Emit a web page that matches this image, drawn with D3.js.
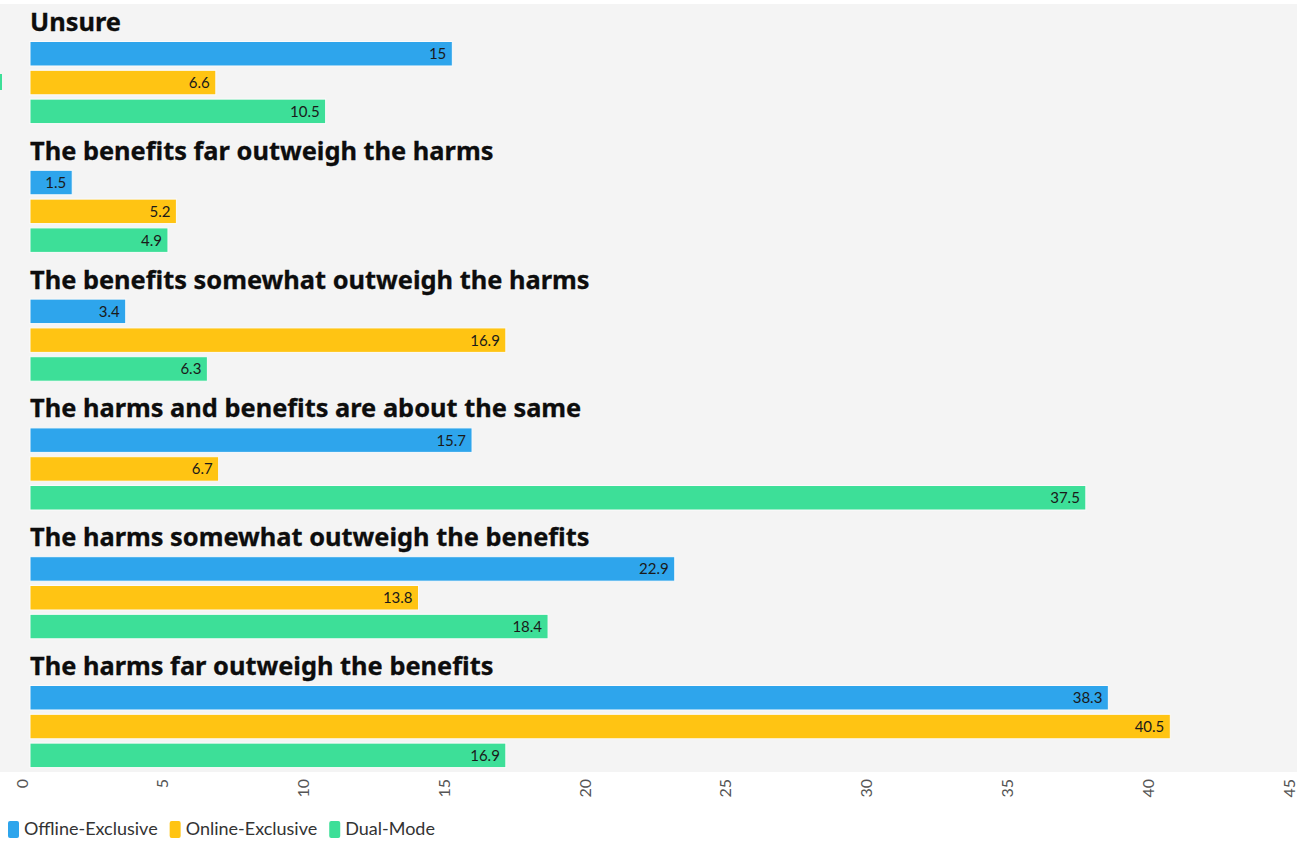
<!DOCTYPE html>
<html>
<head>
<meta charset="utf-8">
<script src="https://cdn.jsdelivr.net/npm/d3@7"></script>
<style>
  html, body { margin: 0; padding: 0; background: #ffffff; }
  svg { display: block; }
</style>
</head>
<body>
<svg id="chart" width="1299" height="845"></svg>
<script>
// ---- data ----
const categories = [
  "Unsure",
  "The benefits far outweigh the harms",
  "The benefits somewhat outweigh the harms",
  "The harms and benefits are about the same",
  "The harms somewhat outweigh the benefits",
  "The harms far outweigh the benefits"
];
const seriesNames = ["Offline-Exclusive", "Online-Exclusive", "Dual-Mode"];
const offlineExclusive = [15, 1.5, 3.4, 15.7, 22.9, 38.3];
const onlineExclusive  = [6.6, 5.2, 16.9, 6.7, 13.8, 40.5];
const dualMode         = [10.5, 4.9, 6.3, 37.5, 18.4, 16.9];
const xTicks = [0, 5, 10, 15, 20, 25, 30, 35, 40, 45];

const seriesValues = [offlineExclusive, onlineExclusive, dualMode];
const colors = ["#2ea5ec", "#ffc413", "#3ddf98"];

const svg = d3.select("#chart");

// background panel
svg.append("rect").attr("x", 0).attr("y", 4).attr("width", 1297).attr("height", 768)
  .attr("fill", "#f4f4f4");
// small left mark
svg.append("rect").attr("x", 0).attr("y", 74).attr("width", 2).attr("height", 16)
  .attr("fill", "#3ddf98");

const x = d3.scaleLinear().domain([0, 45]).range([30, 1297]);
const gY = d3.scaleBand().domain(categories).range([9.5, 9.5 + 6 * 128.8]).paddingInner(0);
const bY = d3.scaleBand().domain(seriesNames).range([32, 114.1]).paddingInner(0.15);

const groups = svg.selectAll("g.grp").data(categories).join("g")
  .attr("class", "grp")
  .attr("transform", d => `translate(0,${gY(d)})`);

groups.append("text")
  .attr("x", 30).attr("y", 21.5)
  .attr("font-family", "'Noto Sans', 'Open Sans', sans-serif")
  .attr("font-weight", "bold")
  .attr("font-size", 25.4)
  .attr("fill", "#0d0d0d")
  .attr("stroke", "#0d0d0d")
  .attr("stroke-width", 0.3)
  .text(d => d);

groups.each(function(cat, ci) {
  const g = d3.select(this);
  const rows = seriesNames.map((s, si) => ({ s, si, v: seriesValues[si][ci] }));
  g.selectAll("rect.bar").data(rows).join("rect")
    .attr("class", "bar")
    .attr("x", x(0))
    .attr("y", d => bY(d.s))
    .attr("width", d => x(d.v) - x(0))
    .attr("height", bY.bandwidth())
    .attr("fill", d => colors[d.si])
    .attr("stroke", "#fbfbfb")
    .attr("stroke-width", 1);
  g.selectAll("text.val").data(rows).join("text")
    .attr("class", "val")
    .attr("x", d => x(d.v) - 6)
    .attr("y", d => bY(d.s) + bY.bandwidth() / 2)
    .attr("dy", "0.36em")
    .attr("text-anchor", "end")
    .attr("font-family", "Lato, 'Noto Sans', sans-serif")
    .attr("font-size", 15)
    .attr("fill", "#1a1a1a")
    .text(d => d.v);
});

// x axis tick labels (rotated)
const axisG = svg.append("g").attr("transform", "translate(0,778)");
const axis = d3.axisBottom(x).tickValues(xTicks).tickSize(0).tickFormat(d3.format("d"));
axisG.call(axis);
axisG.select(".domain").remove();
axisG.selectAll(".tick text")
  .attr("transform", "translate(-8,0) rotate(-90)")
  .attr("text-anchor", "end")
  .attr("x", -1).attr("y", 5).attr("dy", "0")
  .attr("font-family", "Lato, 'Noto Sans', sans-serif")
  .attr("font-size", 16)
  .attr("fill", "#555");

// legend
const legendItems = seriesNames.map((s, i) => ({ s, c: colors[i] }));
const legend = svg.append("g").attr("transform", "translate(8,821)");
let lx = 0;
legendItems.forEach(it => {
  const lg = legend.append("g").attr("transform", `translate(${lx},0)`);
  lg.append("rect").attr("x", 0).attr("y", 0).attr("width", 11).attr("height", 17)
    .attr("rx", 2).attr("fill", it.c);
  const t = lg.append("text").attr("x", 16).attr("y", 14)
    .attr("font-family", "Lato, 'Noto Sans', sans-serif")
    .attr("font-size", 18).attr("fill", "#333").text(it.s);
  lx += 16 + t.node().getComputedTextLength() + 12;
});
</script>
</body>
</html>
